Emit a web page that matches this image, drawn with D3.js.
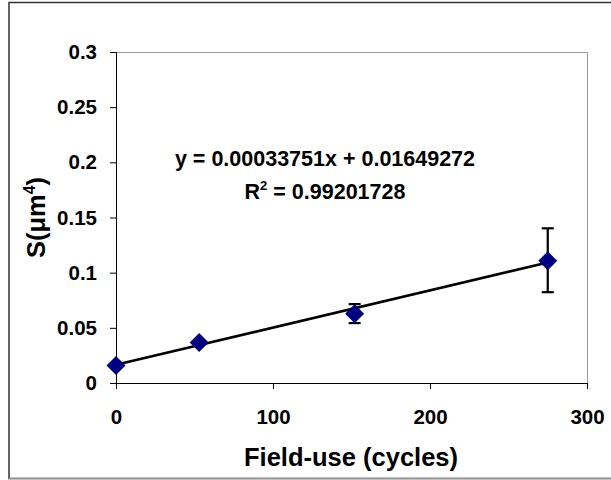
<!DOCTYPE html>
<html>
<head>
<meta charset="utf-8">
<script src="https://cdn.jsdelivr.net/npm/d3@7"></script>
<style>
  body { margin: 0; background: #fff; }
  text { font-family: "Liberation Sans", Arial, sans-serif; font-weight: bold; fill: #000; }
</style>
</head>
<body>
<div id="chart"></div>
<script>
// data
var cycles = [0, 53, 152, 275];
var sValues = [0.0159, 0.0367, 0.0627, 0.1107];
var errLow = [0.0159, 0.0367, 0.0543, 0.0823];
var errHigh = [0.0159, 0.0367, 0.0715, 0.1402];
var xTicks = [0, 100, 200, 300];
var yTicks = [0, 0.05, 0.1, 0.15, 0.2, 0.25, 0.3];
var slope = 0.00033751, intercept = 0.01649272;

var width = 611, height = 480;
var margin = { top: 52, right: 24, bottom: 97, left: 116 };

var svg = d3.select('#chart')
  .append('svg')
  .attr('width', width)
  .attr('height', height);

// outer chart frame (right edge is cut off in the original)
svg.append('path')
  .attr('d', 'M620,2.5 H9 V478.5 H620')
  .attr('fill', 'none')
  .attr('stroke', '#333')
  .attr('stroke-width', 1.5);
svg.append('line')
  .attr('x1', 9).attr('x2', 611).attr('y1', 478.5).attr('y2', 478.5)
  .attr('stroke', '#999').attr('stroke-width', 1.5);

var x = d3.scaleLinear()
  .domain([0, 300])
  .range([margin.left, width - margin.right]);

var y = d3.scaleLinear()
  .domain([0, 0.3])
  .range([height - margin.bottom, margin.top]);

// plot area border (gray top/right)
svg.append('path')
  .attr('d', `M${x(0)},${y(0.3) + 0.5} H${x(300) + 0.5} V${y(0)}`)
  .attr('fill', 'none')
  .attr('stroke', '#999')
  .attr('stroke-width', 1);

function yAxis(g) {
  g.attr("transform", `translate(${x(0)},0)`)
    .call(d3.axisLeft(y).tickValues(yTicks).tickSize(6).tickPadding(13)
      .tickFormat(d => d3.format('')(+d.toFixed(2))))
    .attr("font-size", '20.5px')
    .attr("font-family", null);
  g.select('.domain').attr('stroke', '#000');
}

function xAxis(g) {
  g.attr("transform", `translate(0,${y(0)})`)
    .call(d3.axisBottom(x).tickValues(xTicks).tickSize(6).tickPadding(20))
    .attr("font-size", '20.5px')
    .attr("font-family", null);
  g.select('.domain').attr('stroke', '#000');
}

svg.append("g").call(xAxis);
svg.append("g").call(yAxis);

// trendline
svg.append('line')
  .attr('x1', x(cycles[0]))
  .attr('y1', y(slope * cycles[0] + intercept))
  .attr('x2', x(cycles[cycles.length - 1]))
  .attr('y2', y(slope * cycles[cycles.length - 1] + intercept))
  .attr('stroke', '#000')
  .attr('stroke-width', 2.6);

// error bars
var eb = svg.append('g').attr('stroke', '#000').attr('stroke-width', 2.2);
cycles.forEach(function (c, i) {
  if (errHigh[i] - errLow[i] < 0.001) return;
  eb.append('line').attr('x1', x(c)).attr('x2', x(c)).attr('y1', y(errLow[i])).attr('y2', y(errHigh[i]));
  eb.append('line').attr('x1', x(c) - 6).attr('x2', x(c) + 6).attr('y1', y(errLow[i])).attr('y2', y(errLow[i]));
  eb.append('line').attr('x1', x(c) - 6).attr('x2', x(c) + 6).attr('y1', y(errHigh[i])).attr('y2', y(errHigh[i]));
});

// diamond markers
svg.append('g')
  .selectAll('path')
  .data(cycles)
  .join('path')
  .attr('transform', (d, i) => `translate(${x(d)},${y(sValues[i])})`)
  .attr('d', 'M0,-9.5 L9.5,0 L0,9.5 L-9.5,0 Z')
  .attr('fill', '#000080');

// equation labels
svg.append('text')
  .attr('x', 325).attr('y', 166)
  .attr('text-anchor', 'middle')
  .attr('font-size', '21.5px')
  .text('y = 0.00033751x + 0.01649272');

var r2 = svg.append('text')
  .attr('x', 325).attr('y', 199)
  .attr('text-anchor', 'middle')
  .attr('font-size', '21.5px');
r2.append('tspan').text('R');
r2.append('tspan').attr('dy', -9).attr('font-size', '13px').text('2');
r2.append('tspan').attr('dy', 9).text(' = 0.99201728');

// axis titles
svg.append('text')
  .attr('x', 351).attr('y', 466)
  .attr('text-anchor', 'middle')
  .attr('font-size', '25.5px')
  .text('Field-use (cycles)');

var yt = svg.append('text')
  .attr('transform', `translate(45,${(y(0) + y(0.3)) / 2}) rotate(-90)`)
  .attr('text-anchor', 'middle')
  .attr('font-size', '25.5px');
yt.append('tspan').text('S(μm');
yt.append('tspan').attr('dy', -10).attr('font-size', '16px').text('4');
yt.append('tspan').attr('dy', 10).text(')');
</script>
</body>
</html>
